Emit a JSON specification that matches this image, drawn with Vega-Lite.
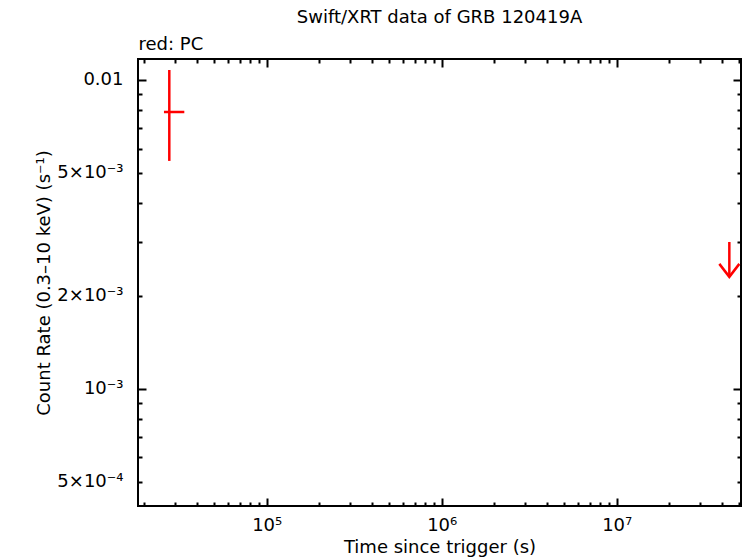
{
  "$schema": "https://vega.github.io/schema/vega-lite/v6.json",
  "width": 603,
  "height": 447,
  "autosize": {"type": "none"},
  "padding": {"left": 138, "top": 59, "right": 5, "bottom": 52},
  "background": "white",
  "title": {"text": "Swift/XRT data of GRB 120419A", "anchor": "middle", "frame": "group", "offset": 8},
  "datasets": {
    "pc": [{"t": 27760, "tlo": 25880, "thi": 33820, "rate": 0.007876, "lo": 0.00547, "hi": 0.01077}],
    "ul": [{"t": 44000000, "rate": 0.00299, "tip": 0.002305}]
  },
  "config": {
    "font": "DejaVu Sans",
    "view": {"stroke": "black", "strokeWidth": 2},
    "title": {"font": "DejaVu Sans", "fontSize": 18, "fontWeight": "normal", "color": "black"},
    "axis": {
      "labelFont": "DejaVu Sans", "labelFontSize": 18, "labelColor": "black",
      "titleFont": "DejaVu Sans", "titleFontSize": 18, "titleFontWeight": "normal", "titleColor": "black",
      "tickColor": "black", "tickWidth": 2, "grid": false, "domain": false,
      "labelOverlap": false, "labelFlush": false
    }
  },
  "resolve": {"axis": {"x": "independent", "y": "independent"}},
  "layer": [
    {
      "data": {"name": "pc"},
      "mark": {"type": "rule", "color": "#ff0000", "strokeWidth": 2.5},
      "encoding": {
        "x": {"field": "t", "type": "quantitative",
          "scale": {"type": "log", "domain": [18390, 51300000], "nice": false},
          "axis": {"orient": "bottom", "values": [100000, 1000000, 10000000], "ticks": false,
            "labelPadding": 10,
            "labelExpr": "datum.value == 100000 ? '10⁵' : datum.value == 1000000 ? '10⁶' : '10⁷'",
            "title": "Time since trigger (s)", "titlePadding": 4}},
        "y": {"field": "lo", "type": "quantitative",
          "scale": {"type": "log", "domain": [0.000418, 0.01169], "nice": false},
          "axis": {"orient": "left", "values": [0.0005, 0.001, 0.002, 0.005, 0.01], "ticks": false,
            "labelPadding": 15,
            "labelExpr": "datum.value == 0.01 ? '0.01' : datum.value == 0.005 ? '5×10⁻³' : datum.value == 0.002 ? '2×10⁻³' : datum.value == 0.001 ? '10⁻³' : '5×10⁻⁴'",
            "title": "Count Rate (0.3–10 keV) (s⁻¹)", "titlePadding": 3}},
        "y2": {"field": "hi"}
      }
    },
    {
      "data": {"name": "pc"},
      "mark": {"type": "rule", "color": "#ff0000", "strokeWidth": 2.5},
      "encoding": {
        "x": {"field": "tlo", "type": "quantitative",
          "scale": {"type": "log", "domain": [18390, 51300000], "nice": false},
          "axis": {"orient": "bottom", "labels": false, "title": null,
            "values": [20000, 30000, 40000, 50000, 60000, 70000, 80000, 90000, 100000, 200000, 300000, 400000, 500000, 600000, 700000, 800000, 900000, 1000000, 2000000, 3000000, 4000000, 5000000, 6000000, 7000000, 8000000, 9000000, 10000000, 20000000, 30000000, 40000000, 50000000],
            "tickSize": {"condition": {"test": "datum.value == 100000 || datum.value == 1000000 || datum.value == 10000000", "value": -8}, "value": -4}}},
        "x2": {"field": "thi"},
        "y": {"field": "rate", "type": "quantitative",
          "scale": {"type": "log", "domain": [0.000418, 0.01169], "nice": false},
          "axis": {"orient": "left", "labels": false, "title": null,
            "values": [0.0005, 0.0006, 0.0007, 0.0008, 0.0009, 0.001, 0.002, 0.003, 0.004, 0.005, 0.006, 0.007, 0.008, 0.009, 0.01],
            "tickSize": {"condition": {"test": "datum.value == 0.001 || datum.value == 0.01", "value": -8}, "value": -4}}}
      }
    },
    {
      "data": {"name": "ul"},
      "mark": {"type": "rule", "color": "#ff0000", "strokeWidth": 2.5},
      "encoding": {
        "x": {"field": "t", "type": "quantitative",
          "scale": {"type": "log", "domain": [18390, 51300000], "nice": false},
          "axis": {"orient": "top", "labels": false,
            "values": [20000, 30000, 40000, 50000, 60000, 70000, 80000, 90000, 100000, 200000, 300000, 400000, 500000, 600000, 700000, 800000, 900000, 1000000, 2000000, 3000000, 4000000, 5000000, 6000000, 7000000, 8000000, 9000000, 10000000, 20000000, 30000000, 40000000, 50000000],
            "tickSize": {"condition": {"test": "datum.value == 100000 || datum.value == 1000000 || datum.value == 10000000", "value": -8}, "value": -4},
            "title": "red: PC", "titleAnchor": "start", "titleAlign": "left", "titleBaseline": "alphabetic", "titlePadding": 9}},
        "y": {"field": "rate", "type": "quantitative",
          "scale": {"type": "log", "domain": [0.000418, 0.01169], "nice": false},
          "axis": {"orient": "right", "labels": false, "title": null,
            "values": [0.0005, 0.0006, 0.0007, 0.0008, 0.0009, 0.001, 0.002, 0.003, 0.004, 0.005, 0.006, 0.007, 0.008, 0.009, 0.01],
            "tickSize": {"condition": {"test": "datum.value == 0.001 || datum.value == 0.01", "value": -8}, "value": -4}}},
        "y2": {"field": "tip"}
      }
    },
    {
      "data": {"name": "ul"},
      "mark": {"type": "point", "shape": "M-1,-1.3L0,0L1,-1.3", "size": 400, "filled": false, "color": "#ff0000", "strokeWidth": 2.5, "opacity": 1},
      "encoding": {
        "x": {"field": "t", "type": "quantitative",
          "scale": {"type": "log", "domain": [18390, 51300000], "nice": false}, "axis": null},
        "y": {"field": "tip", "type": "quantitative",
          "scale": {"type": "log", "domain": [0.000418, 0.01169], "nice": false}, "axis": null}
      }
    }
  ]
}
